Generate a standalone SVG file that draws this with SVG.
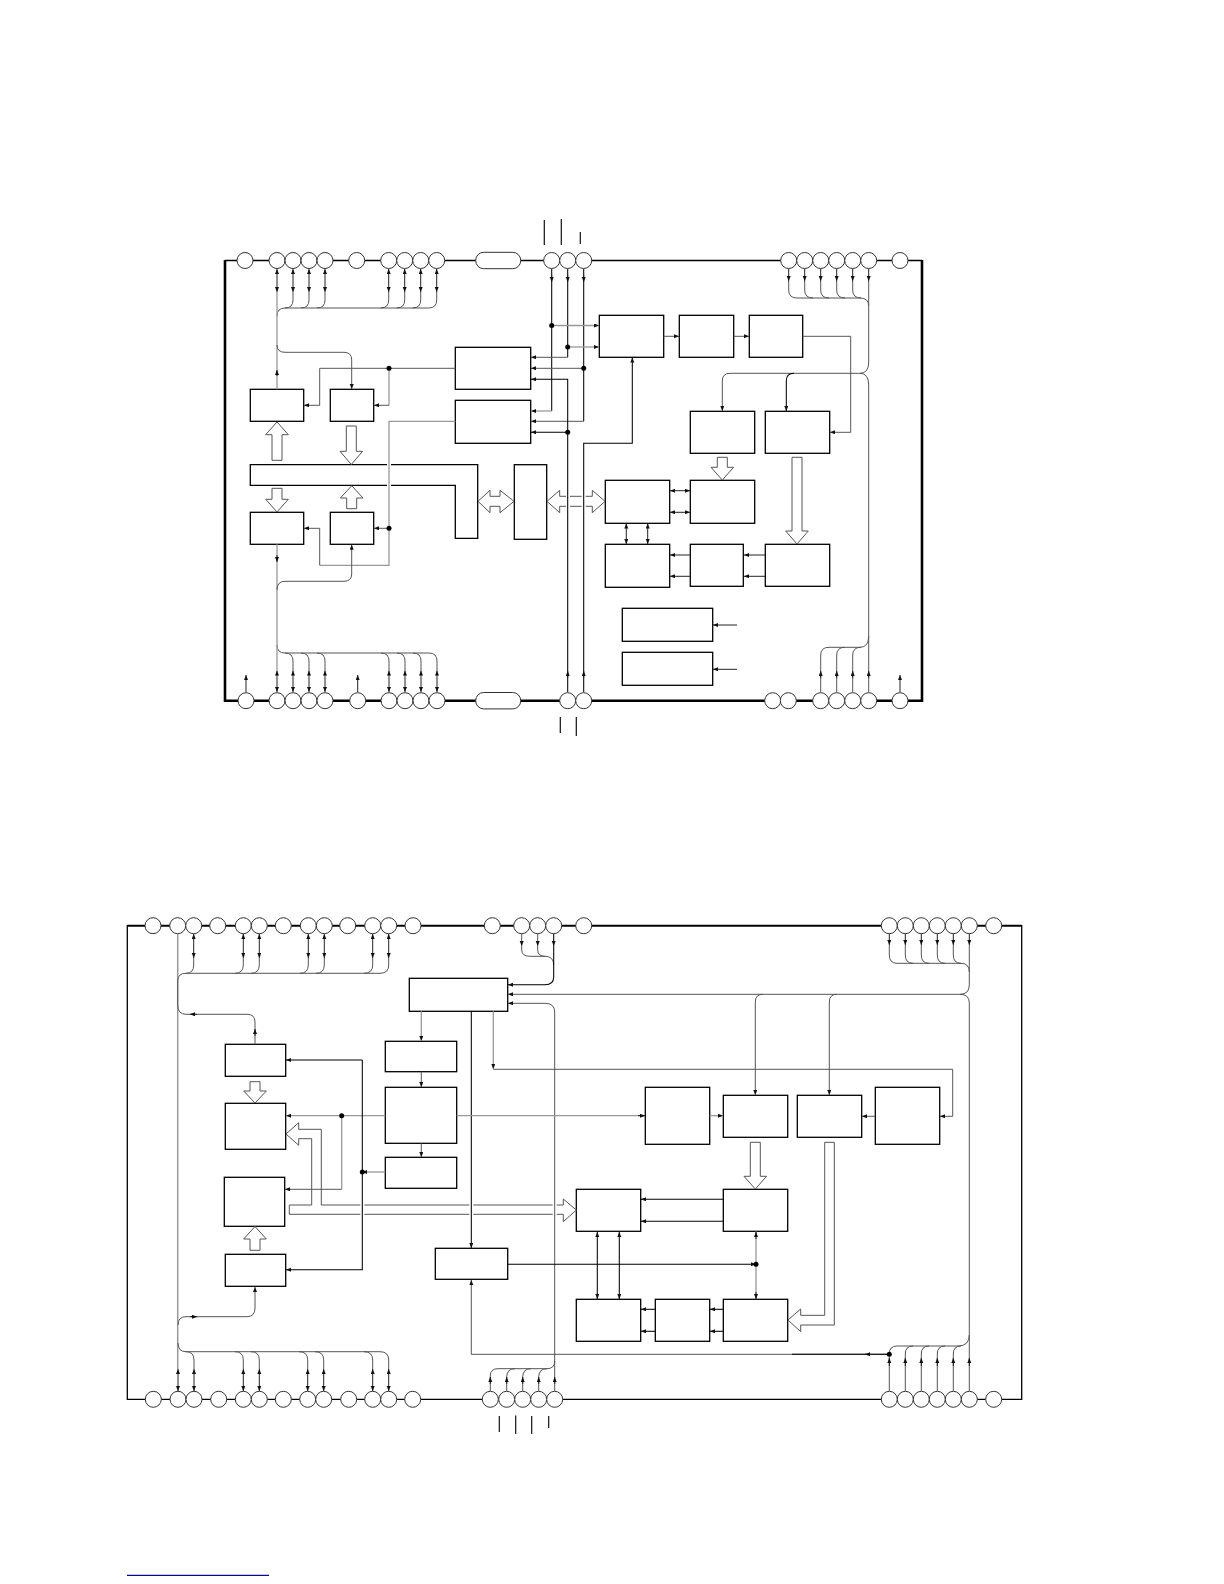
<svg xmlns="http://www.w3.org/2000/svg" width="1224" height="1584" viewBox="0 0 1224 1584">
<style>
rect.b{fill:#fff;stroke:#000;stroke-width:1.3}
circle.p,rect.pill{fill:#fff;stroke:#333;stroke-width:1}
path{fill:none;stroke:#222;stroke-width:1}
path.k{stroke:#000;stroke-width:1.05}
path.g{stroke:#999;stroke-width:1.3}
path.m{stroke:#555;stroke-width:1}
path.a{marker-end:url(#t)}
path.d{marker-start:url(#t);marker-end:url(#t)}
path.hol{fill:#fff;stroke:#555;stroke-width:1}
path.halo{stroke:#fff;stroke-width:4}
path.bus{fill:#fff;stroke:#000;stroke-width:1.3}
circle.j{fill:#000;stroke:none}
path.fr{stroke:#000;stroke-width:1.3}
path.fr2{stroke:#000;stroke-width:2.6}
path.ov{stroke:#111;stroke-width:1.2}
</style>
<defs>
<marker id="t" markerUnits="userSpaceOnUse" markerWidth="6" markerHeight="5" refX="5" refY="2" orient="auto-start-reverse"><path d="M0 0L5 2L0 4Z" style="fill:#111;stroke:none"/></marker>
</defs>
<rect width="1224" height="1584" fill="#fff"/>

<g id="chip1-frame">
<path class="fr" d="M225 260.5H922"/>
<path class="fr2" d="M225 260V700.7H922V260"/>
</g>
<g id="chip2-frame">
<path class="fr2" style="stroke-width:2" d="M127.3 925.7H1021.7"/>
<path class="fr" d="M127.3 925V1399.3H1021.7V925"/>
</g>
<g id="overlines">
<path class="ov" d="M544.3 220V245M561.3 219V245M580.3 232V244M560.3 717V733M576.3 717V736M499.3 1416V1432M515.7 1415.5V1434M531.7 1416V1434M548.7 1416V1428"/>
</g>

<g id="pins-chip1">
<circle class="p" cx="245" cy="260.5" r="8"/><circle class="p" cx="277" cy="260.5" r="8"/><circle class="p" cx="293" cy="260.5" r="8"/><circle class="p" cx="309" cy="260.5" r="8"/><circle class="p" cx="325" cy="260.5" r="8"/><circle class="p" cx="356.7" cy="260.5" r="8"/><circle class="p" cx="388.7" cy="260.5" r="8"/><circle class="p" cx="404.7" cy="260.5" r="8"/><circle class="p" cx="420.7" cy="260.5" r="8"/><circle class="p" cx="436.7" cy="260.5" r="8"/>
<rect class="pill" x="475.7" y="252.3" width="45" height="16.4" rx="8"/>
<circle class="p" cx="551.7" cy="260.5" r="8"/><circle class="p" cx="567.7" cy="260.5" r="8"/><circle class="p" cx="583.7" cy="260.5" r="8"/>
<circle class="p" cx="788.7" cy="260.5" r="8"/><circle class="p" cx="804.7" cy="260.5" r="8"/><circle class="p" cx="820.7" cy="260.5" r="8"/><circle class="p" cx="836.7" cy="260.5" r="8"/><circle class="p" cx="852.7" cy="260.5" r="8"/><circle class="p" cx="868.7" cy="260.5" r="8"/><circle class="p" cx="900" cy="260.5" r="8"/>
<circle class="p" cx="246" cy="700.7" r="8"/><circle class="p" cx="277" cy="700.7" r="8"/><circle class="p" cx="293" cy="700.7" r="8"/><circle class="p" cx="309" cy="700.7" r="8"/><circle class="p" cx="325" cy="700.7" r="8"/><circle class="p" cx="357.7" cy="700.7" r="8"/><circle class="p" cx="389" cy="700.7" r="8"/><circle class="p" cx="405" cy="700.7" r="8"/><circle class="p" cx="421" cy="700.7" r="8"/><circle class="p" cx="437" cy="700.7" r="8"/>
<rect class="pill" x="475.7" y="692.5" width="45" height="16.4" rx="8"/>
<circle class="p" cx="567.7" cy="700.7" r="8"/><circle class="p" cx="583.7" cy="700.7" r="8"/><circle class="p" cx="772.7" cy="700.7" r="8"/><circle class="p" cx="788.3" cy="700.7" r="8"/><circle class="p" cx="820.7" cy="700.7" r="8"/><circle class="p" cx="836.7" cy="700.7" r="8"/><circle class="p" cx="852.7" cy="700.7" r="8"/><circle class="p" cx="868.7" cy="700.7" r="8"/><circle class="p" cx="900" cy="700.7" r="8"/>
</g>

<g id="pins-chip2">
<circle class="p" cx="153" cy="925.7" r="8"/><circle class="p" cx="177.7" cy="925.7" r="8"/><circle class="p" cx="193.7" cy="925.7" r="8"/><circle class="p" cx="217.7" cy="925.7" r="8"/><circle class="p" cx="243.3" cy="925.7" r="8"/><circle class="p" cx="259.3" cy="925.7" r="8"/><circle class="p" cx="283.3" cy="925.7" r="8"/><circle class="p" cx="308.3" cy="925.7" r="8"/><circle class="p" cx="324.3" cy="925.7" r="8"/><circle class="p" cx="347.7" cy="925.7" r="8"/><circle class="p" cx="372.7" cy="925.7" r="8"/><circle class="p" cx="388.7" cy="925.7" r="8"/><circle class="p" cx="413" cy="925.7" r="8"/><circle class="p" cx="492.3" cy="925.7" r="8"/><circle class="p" cx="521.7" cy="925.7" r="8"/><circle class="p" cx="537.7" cy="925.7" r="8"/><circle class="p" cx="553.7" cy="925.7" r="8"/><circle class="p" cx="583.7" cy="925.7" r="8"/><circle class="p" cx="889.3" cy="925.7" r="8"/><circle class="p" cx="905.3" cy="925.7" r="8"/><circle class="p" cx="921.3" cy="925.7" r="8"/><circle class="p" cx="937.3" cy="925.7" r="8"/><circle class="p" cx="953.3" cy="925.7" r="8"/><circle class="p" cx="969.3" cy="925.7" r="8"/><circle class="p" cx="993.7" cy="925.7" r="8"/>
<circle class="p" cx="153.3" cy="1399.3" r="8"/><circle class="p" cx="178" cy="1399.3" r="8"/><circle class="p" cx="194" cy="1399.3" r="8"/><circle class="p" cx="218.7" cy="1399.3" r="8"/><circle class="p" cx="243.3" cy="1399.3" r="8"/><circle class="p" cx="259.3" cy="1399.3" r="8"/><circle class="p" cx="283.3" cy="1399.3" r="8"/><circle class="p" cx="307.7" cy="1399.3" r="8"/><circle class="p" cx="323.7" cy="1399.3" r="8"/><circle class="p" cx="348.7" cy="1399.3" r="8"/><circle class="p" cx="372.7" cy="1399.3" r="8"/><circle class="p" cx="388.7" cy="1399.3" r="8"/><circle class="p" cx="412.7" cy="1399.3" r="8"/><circle class="p" cx="490.3" cy="1399.3" r="8"/><circle class="p" cx="506.7" cy="1399.3" r="8"/><circle class="p" cx="522.7" cy="1399.3" r="8"/><circle class="p" cx="538.7" cy="1399.3" r="8"/><circle class="p" cx="554.7" cy="1399.3" r="8"/><circle class="p" cx="889.3" cy="1399.3" r="8"/><circle class="p" cx="905.3" cy="1399.3" r="8"/><circle class="p" cx="921.3" cy="1399.3" r="8"/><circle class="p" cx="937.3" cy="1399.3" r="8"/><circle class="p" cx="953.3" cy="1399.3" r="8"/><circle class="p" cx="969.3" cy="1399.3" r="8"/><circle class="p" cx="993.7" cy="1399.3" r="8"/>
</g>

<g id="n1-b1"><rect class="b" x="250.3" y="389.3" width="53.4" height="32"/></g>
<g id="n1-b2"><rect class="b" x="330.3" y="389.3" width="43.4" height="32"/></g>
<g id="n1-b3"><rect class="b" x="250.3" y="512.3" width="53.4" height="32"/></g>
<g id="n1-b4"><rect class="b" x="330.3" y="512.3" width="43.4" height="32"/></g>
<g id="n1-amp1"><rect class="b" x="455.3" y="347.3" width="75.4" height="42"/></g>
<g id="n1-amp2"><rect class="b" x="455.3" y="400.3" width="75.4" height="43"/></g>
<g id="n1-bus"><path class="bus" d="M250.3 464.7H477.7V538.3H455.3V485.3H250.3Z"/></g>
<g id="n1-narrow"><rect class="b" x="514.3" y="464.7" width="32.4" height="74.6"/></g>
<g id="n1-a"><rect class="b" x="599.3" y="315.3" width="64.4" height="42"/></g>
<g id="n1-c"><rect class="b" x="679.3" y="315.3" width="54.4" height="42"/></g>
<g id="n1-e"><rect class="b" x="749.3" y="315.3" width="53.4" height="42"/></g>
<g id="n1-f"><rect class="b" x="690.3" y="411.3" width="64.4" height="42"/></g>
<g id="n1-g"><rect class="b" x="765.3" y="411.3" width="64.4" height="42"/></g>
<g id="n1-h"><rect class="b" x="605.3" y="480.3" width="64.4" height="43"/></g>
<g id="n1-i"><rect class="b" x="690.3" y="480.3" width="64.4" height="43"/></g>
<g id="n1-j"><rect class="b" x="605.3" y="544.3" width="64.4" height="43"/></g>
<g id="n1-k"><rect class="b" x="690.3" y="544.3" width="53" height="42"/></g>
<g id="n1-l"><rect class="b" x="765.3" y="544.3" width="64.4" height="42"/></g>
<g id="n1-m"><rect class="b" x="622.3" y="608.3" width="90.4" height="33"/></g>
<g id="n1-n"><rect class="b" x="622.3" y="652.3" width="90.4" height="33"/></g>

<g id="n2-p"><rect class="b" x="409.3" y="978.3" width="98.4" height="33"/></g>
<g id="n2-q"><rect class="b" x="385.3" y="1041.3" width="71.4" height="30.4"/></g>
<g id="n2-r"><rect class="b" x="385.3" y="1087.3" width="71.4" height="56"/></g>
<g id="n2-s"><rect class="b" x="385.3" y="1157.3" width="71.4" height="31"/></g>
<g id="n2-t"><rect class="b" x="225.3" y="1044.3" width="60.4" height="32"/></g>
<g id="n2-u"><rect class="b" x="225.3" y="1103.3" width="60.4" height="46"/></g>
<g id="n2-v"><rect class="b" x="224.3" y="1177.3" width="60.4" height="49"/></g>
<g id="n2-w"><rect class="b" x="225.3" y="1254.3" width="60.4" height="32"/></g>
<g id="n2-x"><rect class="b" x="435.3" y="1248.3" width="72.4" height="31"/></g>
<g id="n2-y"><rect class="b" x="645.3" y="1087.3" width="64.4" height="57"/></g>
<g id="n2-z"><rect class="b" x="723.3" y="1095.3" width="64.4" height="42"/></g>
<g id="n2-aa"><rect class="b" x="797.3" y="1095.3" width="64.4" height="42"/></g>
<g id="n2-ab"><rect class="b" x="875.3" y="1087.3" width="64.4" height="57"/></g>
<g id="n2-ac"><rect class="b" x="576.3" y="1189.3" width="64.4" height="42"/></g>
<g id="n2-ad"><rect class="b" x="723.3" y="1189.3" width="64.4" height="42"/></g>
<g id="n2-ae"><rect class="b" x="576.3" y="1299.3" width="64.4" height="42"/></g>
<g id="n2-af"><rect class="b" x="655.3" y="1299.3" width="54.4" height="42"/></g>
<g id="n2-ag"><rect class="b" x="723.3" y="1299.3" width="64.4" height="42"/></g>

<g id="connectors">
<path class="hol" d="M277 422L288.3 434.7H282V460.3H272V434.7H265.7Z"/>
<path class="hol" d="M351.3 464.5L340 451.3H346.3V426H356.3V451.3H362.6Z"/>
<path class="hol" d="M277 512L265.7 499.3H272V488.3H282V499.3H288.3Z"/>
<path class="hol" d="M351.7 485.7L363 498H356.7V508.7H346.7V498H340.4Z"/>
<path class="hol" d="M478 501.3L490 490.3V496.3H500V490.3L514 501.3L500 512.7V506.3H490V512.7Z"/>
<path class="hol" d="M547 501.3L559.7 490.3V496.3H592.3V490.3L605 501.3L592.3 512.7V506.3H559.7V512.7Z"/>
<path class="hol" d="M722.3 480L711 467.3H717.3V457.3H727.3V467.3H733.6Z"/>
<path class="hol" d="M797 544L785.7 531H792V457.3H802V531H808.3Z"/>
<path class="hol" d="M255 1103L243.7 1091H250V1081.7H260V1091H266.3Z"/>
<path class="hol" d="M255 1226.5L266.3 1239H260V1250.3H250V1239H243.7Z"/>
<path class="hol" d="M755.3 1189L744 1176.3H750.3V1142.3H760.3V1176.3H766.6Z"/>
<path class="hol" d="M286 1134L298.7 1122.7V1129.3H321.3V1205H563.3V1199L576.3 1210L563.3 1221.7V1214.3H289.3V1205H311.7V1138.7H298.7V1145.3Z"/>
<path class="hol" d="M788 1320L800.7 1309V1315.3H824.7V1142.3H834.3V1325H800.7V1331.7Z"/>

<path class="halo" d="M389 462V488M568 492V510M583.7 492V510M362.3 1200V1220M471.3 1200V1220M554.7 1200V1220"/>

<path class="d" d="M277 269V292"/><path class="d" d="M293 269V292"/><path class="d" d="M309 269V292"/><path class="d" d="M325 269V292"/><path class="d" d="M388.7 269V292"/><path class="d" d="M404.7 269V292"/><path class="d" d="M420.7 269V292"/><path class="d" d="M436.7 269V292"/>
<path class="m" d="M293 292V300Q293 308 285 308M309 292V300Q309 308 301 308M325 292V300Q325 308 317 308M388.7 292V300Q388.7 308 380.7 308M404.7 292V300Q404.7 308 396.7 308M420.7 292V300Q420.7 308 412.7 308M436.7 292V300Q436.7 308 428.7 308H285Q277 308 277 316"/>
<path class="g" d="M277 292V389.3"/>
<path class="a" d="M277 376V370"/>
<path class="m a" d="M277 345Q277 352.3 285 352.3H344Q351.7 352.3 351.7 360V389"/>
<path class="m a" d="M455.3 368.3H319.7V405.3H304"/>
<path class="g" d="M389 368.3V405.3"/><path class="m a" d="M389 405.3H374"/>
<path class="g" d="M455.3 421.3H389V565.3H319.7"/>
<path class="m a" d="M319.7 565.3V528.3H304"/>
<path class="m a" d="M389 528.3H374"/>
<path class="k" d="M551.7 269V411"/><path class="a" d="M551.7 275V282"/>
<path class="k" d="M567.7 269V357.3"/><path class="a" d="M567.7 275V282"/>
<path class="k" d="M583.7 269V421.3"/><path class="a" d="M583.7 275V282"/>
<path class="g a" d="M551.7 411H531"/>
<path class="m a" d="M567.7 357.3H531"/>
<path class="m a" d="M583.7 368.3H531"/>
<path class="m a" d="M583.7 421.3H531"/>
<path class="g a" d="M551.7 325.5H599"/>
<path class="g a" d="M567.7 347H599"/>
<path class="k a" d="M567.7 692V379.3H531"/>
<path class="k a" d="M567.7 432.3H531"/>
<path class="k a" d="M583.7 692V443.3H632.3V357.5"/>
<path class="a" d="M567.7 678V671"/><path class="a" d="M583.7 678V671"/>
<path class="m a" d="M663.7 336.3H679"/>
<path class="m a" d="M733.7 336.3H749"/>
<path class="m a" d="M802.7 336.3H850.7V432.3H830"/>
<path class="a" d="M788.7 269V281"/><path class="a" d="M804.7 269V281"/><path class="a" d="M820.7 269V281"/><path class="a" d="M836.7 269V281"/><path class="a" d="M852.7 269V281"/><path class="a" d="M868.7 269V281"/>
<path class="m" d="M788.7 281V290Q788.7 298 797 298H860Q868.7 298 868.7 306M804.7 281V290Q804.7 298 813 298M820.7 281V290Q820.7 298 829 298M836.7 281V290Q836.7 298 845 298M852.7 281V290Q852.7 298 861 298M868.7 281V362Q868.7 373.3 860 373.3H730Q722.3 373.3 722.3 381"/>
<path class="m a" d="M722.3 381V411"/>
<path class="k a" d="M794 373.3Q786.3 373.3 786.3 381V411"/>
<path class="m" d="M860 373.3Q868.7 373.3 868.7 385V636Q868.7 647.3 860 647.3H829Q820.7 647.3 820.7 655V692M845 647.3Q836.7 647.3 836.7 655V692M861 647.3Q852.7 647.3 852.7 655V692M868.7 636V692"/>
<path class="a" d="M820.7 678V671"/><path class="a" d="M836.7 678V671"/><path class="a" d="M852.7 678V671"/><path class="a" d="M868.7 678V671"/>
<path class="d" d="M670 490.7H690"/><path class="d" d="M670 512.3H690"/>
<path class="a" d="M690.3 555H670"/><path class="a" d="M690.3 576.3H670"/>
<path class="a" d="M765.3 555H744"/><path class="a" d="M765.3 576.3H744"/>
<path class="d" d="M626.3 523.5V544"/><path class="d" d="M647.7 523.5V544"/>
<path class="a" d="M737 625H713"/><path class="a" d="M737 669.3H713"/>
<path class="d" d="M277 692V670.5"/><path class="d" d="M293 692V670.5"/><path class="d" d="M309 692V670.5"/><path class="d" d="M325 692V670.5"/><path class="d" d="M389 692V670.5"/><path class="d" d="M405 692V670.5"/><path class="d" d="M421 692V670.5"/><path class="d" d="M437 692V670.5"/>
<path class="m" d="M293 670.5V661Q293 653 285 653M309 670.5V661Q309 653 301 653M325 670.5V661Q325 653 317 653M389 670.5V661Q389 653 381 653M405 670.5V661Q405 653 397 653M421 670.5V661Q421 653 413 653M437 670.5V661Q437 653 429 653H285Q277 653 277 645"/>
<path class="g" d="M277 544.3V670"/>
<path class="a" d="M277 555V562"/>
<path class="m a" d="M277 590Q277 581.3 285 581.3H344Q351.7 581.3 351.7 574V544.8"/>
<path class="a" d="M246 692V675"/><path class="a" d="M357.7 692V675"/><path class="a" d="M900 692V675"/>

<path class="g" style="stroke-width:1.5" d="M177.7 933.7V1369"/>
<path class="d" d="M193.7 934V958"/><path class="d" d="M243.3 934V958"/><path class="d" d="M259.3 934V958"/><path class="d" d="M308.3 934V958"/><path class="d" d="M324.3 934V958"/><path class="d" d="M372.7 934V958"/><path class="d" d="M388.7 934V958"/>
<path class="m" d="M193.7 958V965Q193.7 973.3 186 973.3M243.3 958V965Q243.3 973.3 235 973.3M259.3 958V965Q259.3 973.3 251 973.3M308.3 958V965Q308.3 973.3 300 973.3M324.3 958V965Q324.3 973.3 316 973.3M372.7 958V965Q372.7 973.3 364 973.3M388.7 958V965Q388.7 973.3 380 973.3H186Q177.7 973.3 177.7 981V1005Q177.7 1014.3 186 1014.3H247Q255 1014.3 255 1022V1044.3"/>
<path class="a" d="M197 1014.3H190"/><path class="a" d="M255 1036V1029"/>
<path class="d" d="M178 1391V1369"/><path class="d" d="M194 1391V1369"/><path class="d" d="M243.3 1391V1369"/><path class="d" d="M259.3 1391V1369"/><path class="d" d="M307.7 1391V1369"/><path class="d" d="M323.7 1391V1369"/><path class="d" d="M372.7 1391V1369"/><path class="d" d="M388.7 1391V1369"/>
<path class="m" d="M194 1369V1360Q194 1351.7 186 1351.7M243.3 1369V1360Q243.3 1351.7 235 1351.7M259.3 1369V1360Q259.3 1351.7 251 1351.7M307.7 1369V1360Q307.7 1351.7 299 1351.7M323.7 1369V1360Q323.7 1351.7 315 1351.7M372.7 1369V1360Q372.7 1351.7 364 1351.7M388.7 1369V1360Q388.7 1351.7 380 1351.7H186Q178 1351.7 178 1343"/>
<path class="m a" d="M178 1325Q178 1316.7 186 1316.7H247Q255 1316.7 255 1308V1287"/>
<path class="a" d="M190 1316.7H197"/>
<path class="m a" d="M521.7 934V946"/><path class="m a" d="M537.7 934V946"/><path class="k a" d="M553.7 934V946"/>
<path class="m" d="M521.7 946V950Q521.7 956.3 530 956.3H545Q553.7 956.3 553.7 965M537.7 946V950Q537.7 956.3 545 956.3"/>
<path class="k a" d="M553.7 946V977Q553.7 984.7 545 984.7H508"/>
<path class="m a" d="M969.3 985Q969.3 994.3 960 994.3H508"/>
<path class="m a" d="M763 994.3Q755.3 994.3 755.3 1002V1095"/>
<path class="m a" d="M837 994.3Q829.3 994.3 829.3 1002V1095"/>
<path class="a" d="M889.3 933.7V945"/><path class="a" d="M905.3 933.7V945"/><path class="a" d="M921.3 933.7V945"/><path class="a" d="M937.3 933.7V945"/><path class="a" d="M953.3 933.7V945"/><path class="a" d="M969.3 933.7V945"/>
<path class="m" d="M889.3 945V955Q889.3 963.3 897 963.3H961Q969.3 963.3 969.3 972M905.3 945V955Q905.3 963.3 913 963.3M921.3 945V955Q921.3 963.3 929 963.3M937.3 945V955Q937.3 963.3 945 963.3M953.3 945V955Q953.3 963.3 961 963.3M969.3 945V985"/>
<path class="m" d="M960 994.3Q969.3 994.3 969.3 1003V1391"/>
<path class="m" d="M969.3 1335Q969.3 1346 958 1346H897Q889.3 1346 889.3 1354V1391M913 1346Q905.3 1346 905.3 1354V1391M929 1346Q921.3 1346 921.3 1354V1391M945 1346Q937.3 1346 937.3 1354V1391M961 1346Q953.3 1346 953.3 1354V1391"/>
<path class="a" d="M889.3 1366V1358"/><path class="a" d="M905.3 1366V1358"/><path class="a" d="M921.3 1366V1358"/><path class="a" d="M937.3 1366V1358"/><path class="a" d="M953.3 1366V1358"/><path class="a" d="M969.3 1366V1358"/>
<path class="m a" d="M889.3 1354.3H471.3V1280"/>
<path class="k" d="M792 1354.3H889.3"/>
<path class="a" d="M870 1354.3H865"/>
<path class="m a" d="M554.7 1361.7V1012Q554.7 1003.3 545 1003.3H508"/>
<path class="m" d="M554.7 1361Q554.7 1368.7 547 1368.7H498Q490.3 1368.7 490.3 1376V1391M515 1368.7Q506.7 1368.7 506.7 1377V1391M531 1368.7Q522.7 1368.7 522.7 1377V1391M547 1368.7Q538.7 1368.7 538.7 1377V1391M554.7 1361V1391"/>
<path class="a" d="M490.3 1384V1377"/><path class="a" d="M506.7 1384V1377"/><path class="a" d="M522.7 1384V1377"/><path class="a" d="M538.7 1384V1377"/><path class="a" d="M554.7 1384V1377"/>
<path class="g a" d="M421.3 1011.3V1041"/>
<path class="m a" d="M421.3 1071.7V1087"/>
<path class="m a" d="M421.3 1143.3V1157"/>
<path class="k a" d="M471.3 1011.3V1248"/>
<path class="g a" d="M493.3 1011.3V1069"/>
<path class="m a" d="M493.3 1069.3H952.7V1116.3H940"/>
<path class="m a" d="M875.3 1116.3H862"/>
<path class="g a" d="M385.3 1115.7H286"/>
<path class="g" d="M456.7 1115.7H645"/><path class="a" d="M638 1115.7H645"/>
<path class="g a" d="M709.7 1115.7H723"/>
<path class="g" d="M341.7 1115.7V1189.3"/>
<path class="m a" d="M341.7 1189.3H285"/>
<path class="g a" d="M385.3 1172H362.3"/>
<path class="k a" d="M362.3 1060H286"/>
<path class="k a" d="M362.3 1060V1269.7H286"/>
<path class="k a" d="M723.3 1199.3H641"/>
<path class="k a" d="M723.3 1221.3H641"/>
<path class="k a" d="M507.7 1264.3H756"/>
<path class="g" d="M756 1231.5V1299"/><path class="a" d="M756 1239V1232"/><path class="a" d="M756 1292V1299"/>
<path class="k d" d="M597.3 1232V1299"/><path class="k d" d="M619.3 1232V1299"/>
<path class="k a" d="M723.3 1309.3H710"/><path class="k a" d="M723.3 1331.3H710"/>
<path class="k a" d="M655.3 1309.3H641"/><path class="k a" d="M655.3 1331.3H641"/>

<g id="junctions">
<circle class="j" cx="389" cy="368.3" r="2.5"/><circle class="j" cx="389" cy="528.3" r="2.5"/>
<circle class="j" cx="551.7" cy="325.5" r="2.5"/><circle class="j" cx="567.7" cy="347" r="2.5"/><circle class="j" cx="583.7" cy="368.3" r="2.5"/><circle class="j" cx="567.7" cy="432.3" r="2.5"/>
<circle class="j" cx="341.7" cy="1115.7" r="2.5"/><circle class="j" cx="362.3" cy="1172" r="2.5"/><circle class="j" cx="756" cy="1264.3" r="2.5"/><circle class="j" cx="889.3" cy="1354.3" r="2.5"/>
</g>
</g>

<path id="footer-rule" d="M127 1575.3H269" style="stroke:#0a0a8c;stroke-width:1.2"/>
</svg>
